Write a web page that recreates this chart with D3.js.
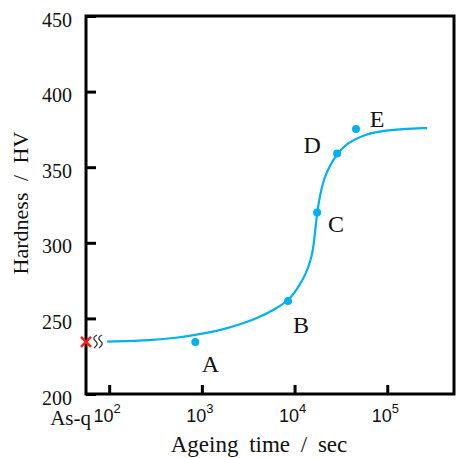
<!DOCTYPE html>
<html>
<head>
<meta charset="utf-8">
<script src="https://cdn.jsdelivr.net/npm/d3@7"></script>
<style>
  body { margin: 0; background: #fff; }
  text { font-family: "Liberation Serif", "Times New Roman", serif; fill: #111; }
</style>
</head>
<body>
<div id="chart"></div>
<script>
// fitted hardness curve (time in sec, HV)
var curveTime = [95, 300, 515, 960, 1600, 2600, 4000, 6000, 8530, 10140, 11480, 13000, 14720, 15870, 16670, 17540, 18890, 20840, 24200, 28840, 36900, 55000, 83800, 148000, 269000];
var curveHv   = [234.6, 235.6, 237.0, 239.5, 242.3, 246.0, 250.3, 255.5, 261.8, 267.5, 272.8, 278.5, 287.0, 295.5, 307.5, 320.4, 332.0, 342.9, 351.5, 358.9, 366.0, 371.3, 373.9, 375.3, 375.9];

// measured points
var pointNames = ["A", "B", "C", "D", "E"];
var pointTime  = [850, 8500, 17500, 28800, 46000];
var pointHv    = [234.4, 261.5, 320.0, 359.0, 375.3];

// as-quenched hardness
var asQuenchedLabel = "As-q";
var asQuenchedHv = 234.4;

var xTicks = [2, 3, 4, 5];           // exponents of 10
var yTicks = [200, 250, 300, 350, 400, 450];

var width = 459, height = 458;
var plotLeft = 86, plotRight = 454, plotTop = 16, plotBottom = 394;

var svg = d3.select("#chart").append("svg")
    .attr("width", width)
    .attr("height", height);

var x = d3.scaleLog()
    .domain([Math.pow(10, 1.75), Math.pow(10, 5.72)])
    .range([plotLeft, plotRight]);

var y = d3.scaleLinear()
    .domain([200, 450])
    .range([plotBottom, plotTop]);

// frame
svg.append("rect")
    .attr("x", plotLeft).attr("y", plotTop)
    .attr("width", plotRight - plotLeft).attr("height", plotBottom - plotTop)
    .attr("fill", "none")
    .attr("stroke", "#000")
    .attr("stroke-width", 3);

// y axis, ticks point inward
var yAxis = svg.append("g")
    .attr("transform", "translate(" + plotLeft + ",0)")
    .call(d3.axisLeft(y).tickValues(yTicks).tickSize(-10).tickPadding(14));
yAxis.select(".domain").remove();
yAxis.selectAll(".tick line").attr("stroke", "#000").attr("stroke-width", 3);
yAxis.selectAll(".tick text")
    .attr("dy", "0.5em")
    .style("font-family", "'Liberation Serif', serif")
    .style("font-size", "20px")
    .attr("fill", "#111");

// x axis, ticks point inward, labels as 10^n
var xAxis = svg.append("g")
    .attr("transform", "translate(0," + plotBottom + ")")
    .call(d3.axisBottom(x)
      .tickValues(xTicks.map(function(e) { return Math.pow(10, e); }))
      .tickSize(-9)
      .tickFormat(""));
xAxis.select(".domain").remove();
xAxis.selectAll(".tick line").attr("stroke", "#000").attr("stroke-width", 3);

xTicks.forEach(function(e) {
  var t = svg.append("text")
      .attr("x", x(Math.pow(10, e)) - 2)
      .attr("y", 422)
      .attr("text-anchor", "middle")
      .style("font-family", "'Liberation Sans', Arial, sans-serif")
      .style("font-size", "18px");
  t.append("tspan").text("10");
  t.append("tspan").attr("dy", -9).style("font-size", "13px").text(e);
});

svg.append("text")
    .attr("x", 91)
    .attr("y", 425)
    .attr("text-anchor", "end")
    .style("font-size", "21px")
    .text(asQuenchedLabel);

// axis titles
svg.append("text")
    .attr("x", 259)
    .attr("y", 452)
    .attr("text-anchor", "middle")
    .style("font-size", "23px")
    .style("word-spacing", "5px")
    .text("Ageing time / sec");

svg.append("text")
    .attr("transform", "translate(28,203) rotate(-90)")
    .attr("text-anchor", "middle")
    .style("font-size", "22px")
    .style("word-spacing", "6px")
    .text("Hardness / HV");

// curve
var curve = curveTime.map(function(t, i) { return {t: t, hv: curveHv[i]}; });
var line = d3.line()
    .x(function(d) { return x(d.t); })
    .y(function(d) { return y(d.hv); })
    .curve(d3.curveBasis);

svg.append("path")
    .datum(curve)
    .attr("d", line)
    .attr("fill", "none")
    .attr("stroke", "#00b0f0")
    .attr("stroke-width", 2.2);

// points
var points = pointNames.map(function(n, i) { return {name: n, t: pointTime[i], hv: pointHv[i]}; });
svg.selectAll("circle.pt")
    .data(points)
  .enter().append("circle")
    .attr("class", "pt")
    .attr("cx", function(d) { return x(d.t); })
    .attr("cy", function(d) { return y(d.hv); })
    .attr("r", 4)
    .attr("fill", "#00b0f0");

// label offsets from the point
var labelOffset = {A: [15, 30], B: [13, 32], C: [19, 19], D: [-25, -1], E: [21, -2]};
svg.selectAll("text.pt")
    .data(points)
  .enter().append("text")
    .attr("class", "pt")
    .attr("x", function(d) { return x(d.t) + labelOffset[d.name][0]; })
    .attr("y", function(d) { return y(d.hv) + labelOffset[d.name][1]; })
    .attr("text-anchor", "middle")
    .style("font-size", "24px")
    .text(function(d) { return d.name; });

// as-quenched marker on the y axis
var qx = plotLeft, qy = y(asQuenchedHv);
svg.append("path")
    .attr("d", "M" + (qx - 5) + "," + (qy - 5) + "L" + (qx + 5) + "," + (qy + 5) +
               "M" + (qx + 5) + "," + (qy - 5) + "L" + (qx - 5) + "," + (qy + 5))
    .attr("stroke", "#ff1a1a")
    .attr("stroke-width", 2.5)
    .attr("fill", "none");

// axis break squiggles
[94, 99].forEach(function(bx) {
  svg.append("path")
      .attr("d", "M" + (bx + 3) + "," + (qy - 7) +
                 "C" + (bx - 1) + "," + (qy - 5) + " " + (bx - 1) + "," + (qy - 3) + " " + (bx + 1.5) + "," + (qy - 1) +
                 "C" + (bx + 4) + "," + (qy + 1) + " " + (bx + 4) + "," + (qy + 3) + " " + bx + "," + (qy + 6))
      .attr("stroke", "#333")
      .attr("stroke-width", 1.3)
      .attr("fill", "none");
});
</script>
</body>
</html>
